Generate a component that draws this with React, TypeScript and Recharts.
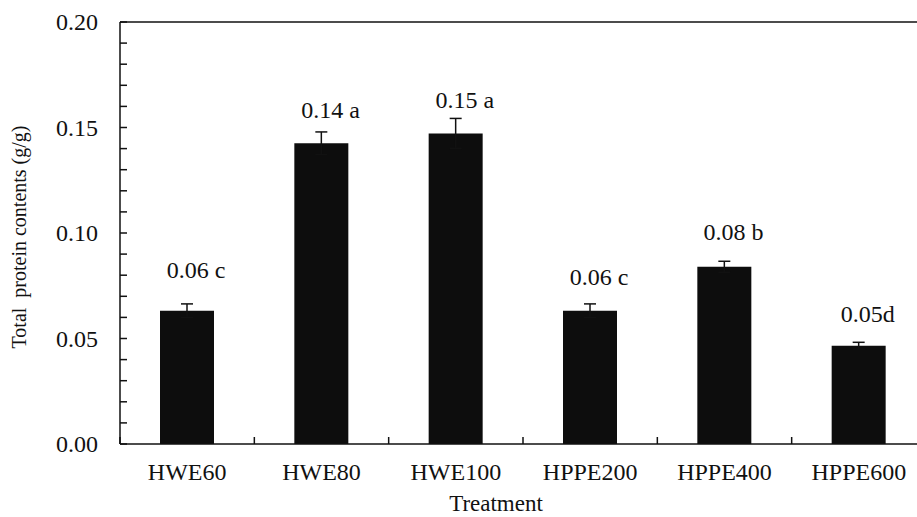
import React from 'react';
import { ComposedChart, Bar, ErrorBar, XAxis, YAxis, Scatter, ReferenceLine } from 'recharts';

const categories = ['HWE60', 'HWE80', 'HWE100', 'HPPE200', 'HPPE400', 'HPPE600'];
const values = [0.0632, 0.1425, 0.1472, 0.0632, 0.0840, 0.0466];
const errors = [0.0032, 0.0054, 0.0071, 0.0032, 0.0026, 0.0016];
const labelTexts = ['0.06 c', '0.14 a', '0.15 a', '0.06 c', '0.08 b', '0.05d'];
const labelPositions = [0.0825, 0.1583, 0.1633, 0.0791, 0.1007, 0.0616];
const yTicks = [0, 0.01, 0.02, 0.03, 0.04, 0.05, 0.06, 0.07, 0.08, 0.09, 0.10, 0.11, 0.12, 0.13, 0.14, 0.15, 0.16, 0.17, 0.18, 0.19, 0.20];
const majorTicks = [0, 0.05, 0.10, 0.15, 0.20];

const data = categories.map((c, i) => ({
  name: c,
  value: values[i],
  err: errors[i],
  labelY: labelPositions[i],
  labelText: labelTexts[i],
}));

const FONT = "'Liberation Serif', 'Times New Roman', serif";
const CHART_W = 940;
const CHART_H = 517;
const MARGIN = { top: 22, right: 14, bottom: 0, left: 0 };
const Y_AXIS_W = 120;
const X_AXIS_H = 73;
const PLOT_W = CHART_W - MARGIN.left - MARGIN.right - Y_AXIS_W;
const BAND = PLOT_W / categories.length;

const renderYTick = (props: any) => {
  const { x, y, payload } = props;
  const v = payload.value;
  const isMajor = majorTicks.some((m) => Math.abs(m - v) < 1e-6);
  return (
    <g key={`yt-${v}`}>
      <line x1={x} x2={x + 7} y1={y} y2={y} stroke="#111" strokeWidth={1.5} />
      {isMajor && (
        <text className="serif" x={x - 22} y={y} dy="0.35em" textAnchor="end" fontSize={24} fill="#111">
          {v.toFixed(2)}
        </text>
      )}
    </g>
  );
};

const renderXTick = (props: any) => {
  const { x, y, payload } = props;
  const bx = x - BAND / 2;
  return (
    <g key={`xt-${payload.value}`}>
      <line x1={bx} x2={bx} y1={y} y2={y - 7} stroke="#111" strokeWidth={1.5} />
      <text className="serif" x={x} y={y + 36} textAnchor="middle" fontSize={24} fill="#111">
        {payload.value}
      </text>
    </g>
  );
};

const renderLabelShape = (props: any) => {
  const { cx, cy, payload } = props;
  return (
    <text className="serif" x={cx + 9} y={cy} dy="0.35em" textAnchor="middle" fontSize={24} fill="#111">
      {payload.labelText}
    </text>
  );
};

export default function App() {
  return (
    <div style={{ width: 917, height: 517, overflow: 'hidden' }}>
      <style>{`body{margin:0;overflow:hidden;background:#fff} svg text, .serif { font-family: ${FONT} !important; }`}</style>
      <ComposedChart width={CHART_W} height={CHART_H} data={data} margin={MARGIN}>
        <XAxis
          dataKey="name"
          type="category"
          height={X_AXIS_H}
          tickSize={0}
          tickMargin={0}
          tickLine={false}
          axisLine={{ stroke: '#111', strokeWidth: 1.5 }}
          tick={renderXTick}
          interval={0}
          label={() => (
            <text className="serif" x={496} y={511} textAnchor="middle" fontSize={23} fill="#111">
              Treatment
            </text>
          )}
        />
        <YAxis
          type="number"
          domain={[0, 0.2]}
          ticks={yTicks}
          width={Y_AXIS_W}
          tickSize={0}
          tickMargin={0}
          tickLine={false}
          interval={0}
          axisLine={{ stroke: '#111', strokeWidth: 1.5 }}
          tick={renderYTick}
          label={() => (
            <text
              className="serif"
              x={26}
              y={237}
              transform="rotate(-90, 26, 237)"
              textAnchor="middle"
              fontSize={20}
              fill="#111"
              style={{ whiteSpace: 'pre' }}
            >
              {'Total  protein contents (g/g)'}
            </text>
          )}
        />
        <ReferenceLine y={0.2} stroke="#111" strokeWidth={1.5} />
        <Bar dataKey="value" fill="#0d0d0d" barSize={54} isAnimationActive={false}>
          <ErrorBar dataKey="err" direction="y" width={6} stroke="#111" strokeWidth={1.5} />
        </Bar>
        <Scatter dataKey="labelY" shape={renderLabelShape} isAnimationActive={false} />
      </ComposedChart>
    </div>
  );
}
